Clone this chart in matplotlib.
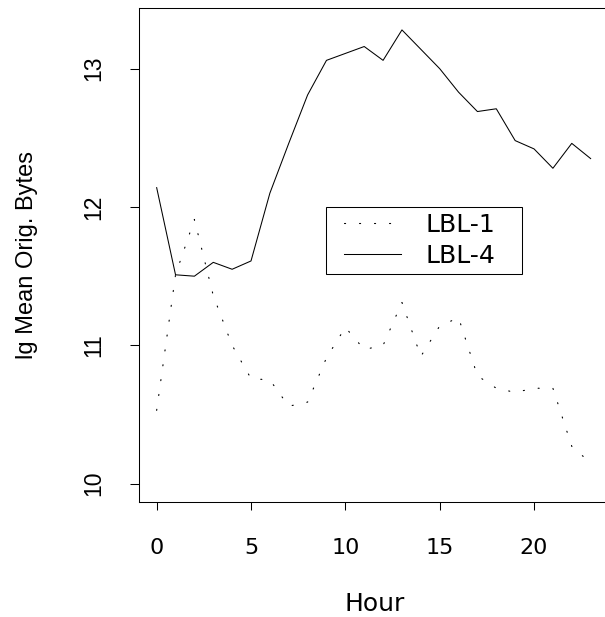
import matplotlib
matplotlib.use("Agg")
import matplotlib.pyplot as plt
from matplotlib.lines import Line2D
from matplotlib.legend_handler import HandlerLine2D

# values
hours = list(range(24))
lbl1 = [10.53, 11.51, 11.91, 11.36, 11.00, 10.76, 10.75, 10.56, 10.59, 10.91,
        11.13, 10.97, 11.00, 11.31, 10.92, 11.14, 11.20, 10.78, 10.69, 10.66,
        10.69, 10.69, 10.27, 10.15]
lbl4 = [12.14, 11.51, 11.50, 11.60, 11.55, 11.61, 12.10, 12.46, 12.81, 13.06,
        13.11, 13.16, 13.06, 13.28, 13.14, 13.00, 12.83, 12.69, 12.71, 12.48,
        12.42, 12.28, 12.46, 12.35]
names = ["LBL-1", "LBL-4"]
xticks = [0, 5, 10, 15, 20]
yticks = [10, 11, 12, 13]

W, H = 605, 617
fig = plt.figure(figsize=(W / 100, H / 100), dpi=100)
# axes box runs a bit past the right edge, like the cropped original
ax = fig.add_axes([139.3 / W, 1 - 501.7 / H, 468.7 / W, 494.2 / H])

l1, = ax.plot(hours, lbl1, color="black", lw=0.8, linestyle=(0, (1, 12.5)),
              dash_capstyle="round")
l4, = ax.plot(hours, lbl4, color="black", lw=0.75)

ax.set_xlim(-0.92, 23.92)
ax.set_ylim(9.87, 13.442)

for s in ax.spines.values():
    s.set_linewidth(0.75)
    s.set_color("black")

ax.set_xticks(xticks)
ax.set_xticklabels([str(v) for v in xticks], family="DejaVu Sans", fontsize=16,
                   va="baseline")
ax.set_yticks(yticks)
ax.set_yticklabels([str(v) for v in yticks], family="Liberation Sans", fontsize=16.5,
                   rotation=90, rotation_mode="anchor", ha="center", va="baseline")
ax.tick_params(axis="x", length=5.5, width=0.75, pad=32.1)
ax.tick_params(axis="y", length=6.7, width=0.75, pad=21.6)

ax.set_xlabel("Hour", family="DejaVu Sans", fontsize=18)
ax.xaxis.set_label_coords(0.502, -0.2206)
ax.xaxis.label.set_va("baseline")
ax.set_ylabel("lg Mean Orig. Bytes", family="Liberation Sans", fontsize=17)
ax.yaxis.set_label_coords(-0.2262, 0.5)
ax.yaxis.label.set_va("baseline")

leg = ax.legend([l1, l4], names, loc="upper left",
                bbox_to_anchor=(0.3977, 0.5969, 0.4195, 0), mode="expand",
                borderaxespad=0, borderpad=0.25, labelspacing=0.27,
                handlelength=2.75, handletextpad=0.99, fancybox=False,
                edgecolor="black", framealpha=1,
                prop={"family": "DejaVu Sans", "size": 18},
                handler_map={Line2D: HandlerLine2D(xpad=0.49)})
leg.get_frame().set_linewidth(0.75)

fig.savefig("out.png", dpi=100)
